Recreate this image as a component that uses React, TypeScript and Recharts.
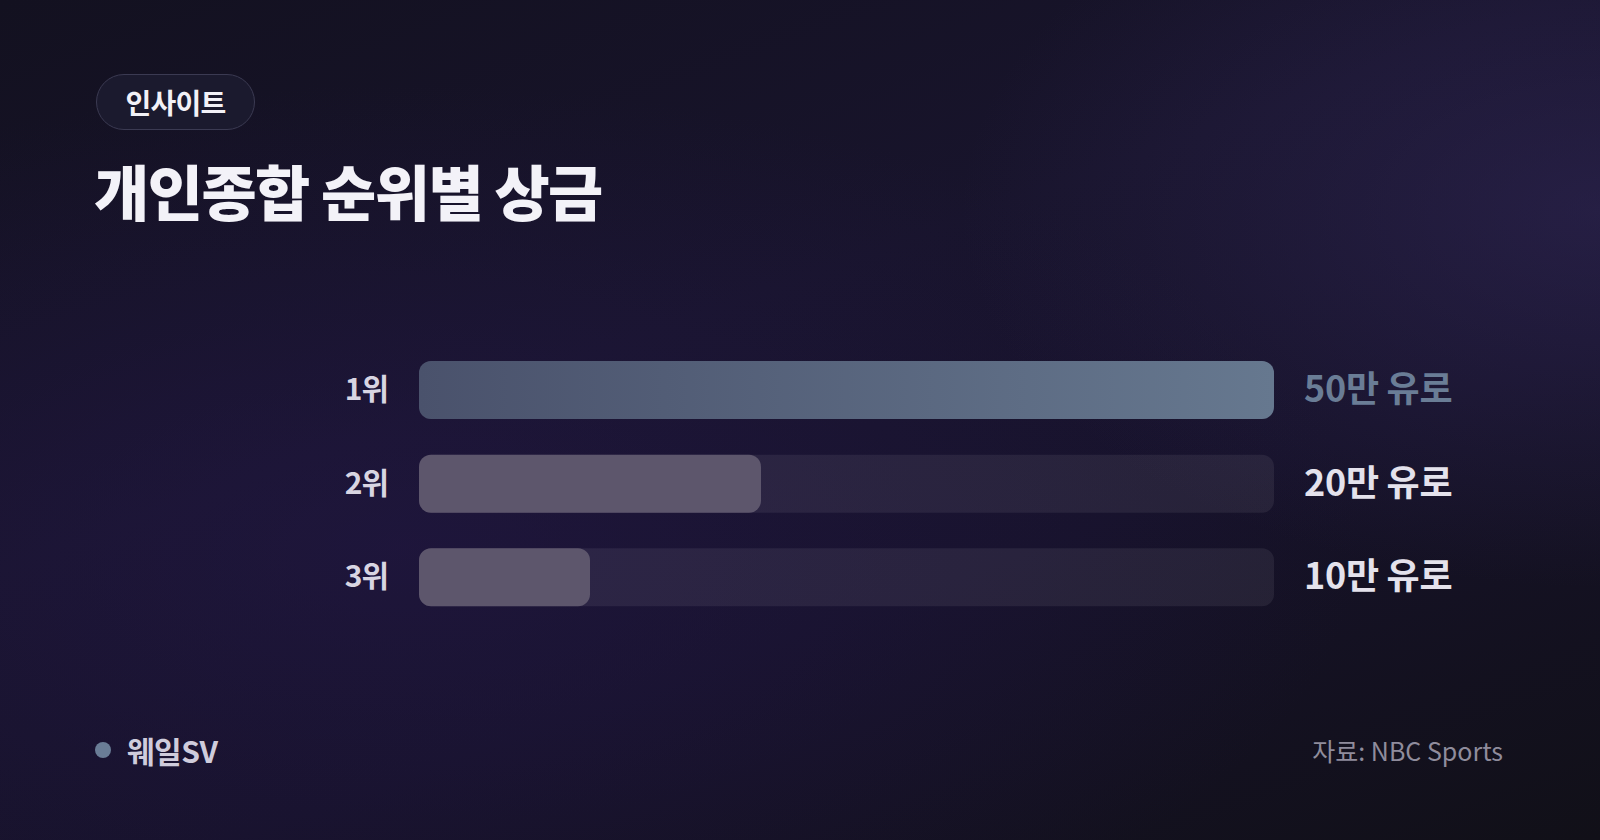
import { Bar, BarChart, Cell, XAxis, YAxis } from 'recharts';

const ranks = ['1위', '2위', '3위'];
const prizes = [50, 20, 10]; // 만 유로
const prizeLabels = ['50만 유로', '20만 유로', '10만 유로'];

const data = ranks.map((rank, i) => ({ rank, prize: prizes[i], label: prizeLabels[i] }));

const FONT = '"Noto Sans CJK KR", "Noto Sans", sans-serif';
const ACCENT = '#6a7d96';

function RankTick(props: any) {
  const { x, y, payload } = props;
  return (
    <text x={x} y={y} dy={10} textAnchor="end" fill="#d8d5e2" fontSize={30} fontWeight={600} fontFamily={FONT} letterSpacing={-1}>
      {payload.value}
    </text>
  );
}

function PrizeTick(props: any) {
  const { x, y, payload, index } = props;
  return (
    <text x={x} y={y} dy={12} textAnchor="start" fill={index === 0 ? ACCENT : '#e4e2ec'} fontSize={36} fontWeight={700} fontFamily={FONT} letterSpacing={-0.3}>
      {payload.value}
    </text>
  );
}

export default function App() {
  return (
    <div
      style={{
        position: 'fixed',
        left: 0,
        top: 0,
        width: 1600,
        height: 840,
        overflow: 'hidden',
        fontFamily: FONT,
        background:
          'radial-gradient(ellipse 40% 45% at 100% 25%, rgba(62,50,110,0.38), transparent 100%), radial-gradient(ellipse 60% 55% at 25% 65%, rgba(38,24,78,0.45), transparent 100%), linear-gradient(160deg, #131120 0%, #18142c 40%, #161229 65%, #111018 100%)',
      }}
    >
      <div
        style={{
          position: 'absolute',
          left: 96,
          top: 74,
          width: 159,
          height: 56,
          boxSizing: 'border-box',
          borderRadius: 28,
          border: '1px solid #3b3a52',
          background: '#1b1a2e',
          color: '#f2f1f7',
          fontSize: 28,
          fontWeight: 700,
          display: 'flex',
          alignItems: 'center',
          justifyContent: 'center',
          letterSpacing: -0.8,
        }}
      >
        인사이트
      </div>
      <div
        style={{
          position: 'absolute',
          left: 94,
          top: 155,
          fontSize: 60,
          lineHeight: '70px',
          fontWeight: 800,
          color: '#f3f2f8',
          letterSpacing: -1.5,
        }}
      >
        개인종합 순위별 상금
      </div>

      <div style={{ position: 'absolute', left: 0, top: 0 }}>
        <BarChart
          width={1600}
          height={840}
          data={data}
          layout="vertical"
          margin={{ top: 343, bottom: 216, left: 0, right: 0 }}
        >
          <defs>
            <linearGradient id="firstBar" x1="0" y1="0" x2="1" y2="0">
              <stop offset="0%" stopColor="#4a526c" />
              <stop offset="100%" stopColor="#66788f" />
            </linearGradient>
          </defs>
          <XAxis type="number" domain={[0, 50]} hide />
          <YAxis
            yAxisId="left"
            type="category"
            dataKey="rank"
            width={419}
            axisLine={false}
            tickLine={false}
            tickSize={0}
            tickMargin={31}
            tick={<RankTick />}
          />
          <YAxis
            yAxisId="right"
            orientation="right"
            type="category"
            dataKey="label"
            width={326}
            axisLine={false}
            tickLine={false}
            tickSize={0}
            tickMargin={30}
            tick={<PrizeTick />}
          />
          <Bar
            yAxisId="left"
            dataKey="prize"
            barSize={58}
            radius={12}
            background={{ fill: 'rgba(255,255,255,0.07)', radius: 12 }}
            isAnimationActive={false}
          >
            {data.map((d, i) => (
              <Cell key={d.rank} fill={i === 0 ? 'url(#firstBar)' : '#5d566c'} />
            ))}
          </Bar>
        </BarChart>
      </div>

      <div
        style={{
          position: 'absolute',
          left: 95,
          top: 730,
          height: 40,
          display: 'flex',
          alignItems: 'center',
          gap: 16,
        }}
      >
        <span style={{ width: 16, height: 16, borderRadius: 8, background: ACCENT, display: 'inline-block' }} />
        <span style={{ fontSize: 30, fontWeight: 700, color: '#cfccdc', letterSpacing: -0.5 }}>웨일SV</span>
      </div>
      <div
        style={{
          position: 'absolute',
          right: 97,
          top: 730,
          height: 40,
          display: 'flex',
          alignItems: 'center',
          fontSize: 25,
          color: '#8f8c9c',
        }}
      >
        자료: NBC Sports
      </div>
    </div>
  );
}
